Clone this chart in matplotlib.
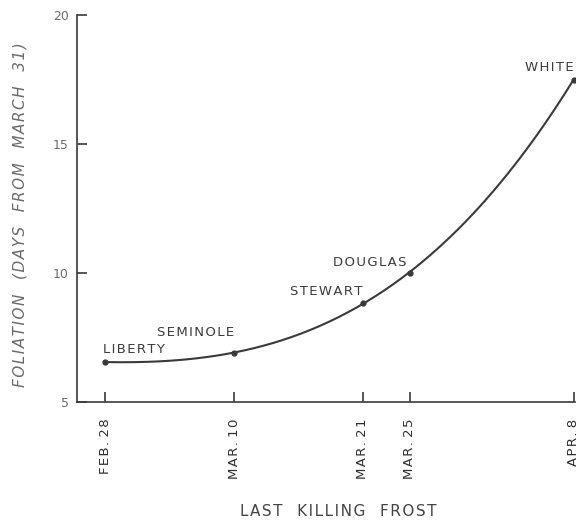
import numpy as np
import matplotlib.pyplot as plt

# Varieties, date of last killing frost (days after Feb. 28) and foliation date
varieties = ["LIBERTY", "SEMINOLE", "STEWART", "DOUGLAS", "WHITE"]
frost_day = [0, 11, 22, 26, 40]
foliation = [6.55, 6.9, 8.85, 10.0, 17.5]
date_labels = ["FEB. 28", "MAR. 10", "MAR. 21", "MAR. 25", "APR. 8"]
y_ticks = [5, 10, 15, 20]

ink = "#3a3a3a"
grey = "#6a6a6a"


def spaced(s, gap="  "):
    # widen the lettering with hair spaces between characters and words
    return gap.join("\u200a".join(word) for word in s.split(" "))


fig = plt.figure(figsize=(5.8, 5.2), dpi=100)
ax = fig.add_axes([0.133, 0.227, 0.858, 0.744])

# smooth trend curve through the varieties
coef = np.polyfit(frost_day, foliation, 3)
xs = np.linspace(frost_day[0], frost_day[-1], 200)
ax.plot(xs, np.polyval(coef, xs), color=ink, lw=1.5, solid_capstyle="round")
ax.plot(frost_day, foliation, "o", color=ink, ms=3.5)

# variety names: (dx, dy) offsets in points, horizontal alignment
offsets = {
    "LIBERTY": (-1.5, 9, "left"),
    "SEMINOLE": (0, 14.5, "right"),
    "STEWART": (0, 8, "right"),
    "DOUGLAS": (-2, 7.5, "right"),
    "WHITE": (0, 9, "right"),
}
for name, x, y in zip(varieties, frost_day, foliation):
    dx, dy, ha = offsets[name]
    ax.annotate(spaced(name), (x, y), xytext=(dx, dy), textcoords="offset points",
                ha=ha, va="center", fontsize=9.5, color="#3c3c3c")

ax.set_xlim(-2.4, 40.1)
ax.set_ylim(5, 20)
ax.set_xticks(frost_day)
ax.set_xticklabels([spaced(d, " ") for d in date_labels], rotation=90,
                   fontsize=9.5, color="#2e2e2e")
ax.set_yticks(y_ticks)
ax.set_yticklabels([str(t) for t in y_ticks], fontsize=9, color=grey)

for side in ["top", "right"]:
    ax.spines[side].set_visible(False)
for side in ["left", "bottom"]:
    ax.spines[side].set_color(ink)
    ax.spines[side].set_linewidth(1.2)
ax.tick_params(axis="both", direction="in", length=7, width=1.2, color=ink)
ax.tick_params(axis="x", pad=12)
ax.tick_params(axis="y", pad=6)

ax.set_xlabel(spaced("LAST KILLING FROST", "   "), fontsize=11,
              color="#444444", va="center")
ax.xaxis.set_label_coords(0.524, -0.284)
ax.set_ylabel(spaced("FOLIATION (DAYS FROM MARCH 31)", "   "), fontsize=11,
              color=grey, style="italic", va="center")
ax.yaxis.set_label_coords(-0.114, 0.483)

fig.savefig("out.png", dpi=100)
